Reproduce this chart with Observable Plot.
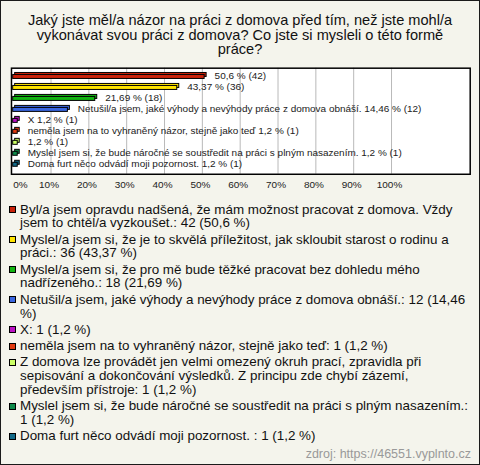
<!DOCTYPE html>
<html>
<head>
<meta charset="utf-8">
<script src="https://cdn.jsdelivr.net/npm/d3@7"></script>
<script src="https://cdn.jsdelivr.net/npm/@observablehq/plot@0.6"></script>
<style>
  html, body { margin: 0; padding: 0; background: #fff; }
  #page { position: relative; width: 478px; height: 463px; border: 1px solid #1a1a1a;
          background: #f4f4ec; font-family: "Liberation Sans", Arial, sans-serif; color: #111; overflow: hidden; }
  #title { position: absolute; left: 0; right: 0; top: 12px; margin: 0 auto; width: 440px;
           text-align: center; font-size: 14.6px; line-height: 14.7px; }
  #chart { position: absolute; left: -1px; top: 59px; }
  #legend { position: absolute; left: 8px; top: 201.5px; width: 462px; font-size: 13.4px; line-height: 13.8px; }
  .item { display: flex; align-items: flex-start; margin-bottom: 2.5px; }
  .sw { flex: none; width: 5px; height: 5px; border: 1px solid #000; margin-top: 3.4px; margin-right: 4px; }
  .txt { flex: 1; }
  #caption { position: absolute; right: 8px; top: 446px; font-size: 12.5px; color: #999; }
</style>
</head>
<body>
<div id="page">
  <div id="title">Jaký jste měl/a názor na práci z domova před tím, než jste mohl/a vykonávat svou práci z domova? Co jste si mysleli o této formě práce?</div>
  <div id="chart"></div>
  <div id="legend"></div>
  <div id="caption">zdroj: https://46551.vyplnto.cz</div>
</div>
<script>
const categories = [
  "Byl/a jsem opravdu nadšená, že mám možnost pracovat z domova. Vždy jsem to chtěl/a vyzkoušet.",
  "Myslel/a jsem si, že je to skvělá příležitost, jak skloubit starost o rodinu a práci.",
  "Myslel/a jsem si, že pro mě bude těžké pracovat bez dohledu mého nadřízeného.",
  "Netušil/a jsem, jaké výhody a nevýhody práce z domova obnáší.",
  "X",
  "neměla jsem na to vyhraněný názor, stejně jako teď",
  "Z domova lze provádět jen velmi omezený okruh prací, zpravidla při sepisování a dokončování výsledků. Z principu zde chybí zázemí, především přístroje",
  "Myslel jsem si, že bude náročné se soustředit na práci s plným nasazením.",
  "Doma furt něco odvádí moji pozornost. "
];
const counts = [42, 36, 18, 12, 1, 1, 1, 1, 1];
const percents = [50.6, 43.37, 21.69, 14.46, 1.2, 1.2, 1.2, 1.2, 1.2];
const showNameInBar = [false, false, false, true, true, true, false, true, true];
const colors = ["#c8220a", "#ffe400", "#11b411", "#3a66e0", "#bb11c4", "#e03a10", "#ccff66", "#0e8a4a", "#136a88"];
const xTicks = [0, 10, 20, 30, 40, 50, 60, 70, 80, 90, 100];

const fmt = v => String(v).replace(".", ",");
const data = categories.map((name, i) => ({
  name,
  count: counts[i],
  pct: percents[i],
  color: colors[i],
  label: (showNameInBar[i] ? name.trim() + " " : "") + fmt(percents[i]) + " % (" + counts[i] + ")"
}));

const font = '"Liberation Sans", Arial, sans-serif';
const chart = Plot.plot({
  width: 480,
  height: 140,
  marginTop: 7.7,
  marginBottom: 26,
  marginLeft: 11,
  marginRight: 9.3,
  style: { background: "transparent", fontFamily: font, color: "#222" },
  x: { domain: [-0.45, 120.8], axis: null, label: null },
  y: { domain: categories, padding: 0, axis: null },
  color: { type: "identity" },
  marks: [
    Plot.frame({ fill: "#fff", stroke: "none" }),
    Plot.ruleX(xTicks.filter(d => d > 0), { stroke: "#b9b9b9", strokeWidth: 1 }),
    Plot.barX(data, { x1: 0, x2: "pct", y: "name", fill: "color", stroke: "#000", strokeWidth: 1,
                      insetTop: 3.5, insetBottom: 3.5, dx: 2, dy: -2 }),
    Plot.barX(data, { x1: 0, x2: "pct", y: "name", fill: "color", stroke: "#000", strokeWidth: 1,
                      insetTop: 3.5, insetBottom: 3.5 }),
    Plot.text(data, { x: "pct", y: "name", text: "label", textAnchor: "start", dx: 10, dy: -1,
                      fontSize: 10, fill: "#222" }),
    Plot.frame({ stroke: "#000", strokeWidth: 1.5 }),
    Plot.axisX(xTicks.filter(d => d === 0), { tickSize: 0, tickPadding: 7, textAnchor: "start", fontSize: 10,
                      tickFormat: d => d + "%", fill: "#222", label: null }),
    Plot.axisX(xTicks.filter(d => d > 0), { tickSize: 0, tickPadding: 7, fontSize: 10,
                      tickFormat: d => d + "%", fill: "#222", dx: -2, label: null })
  ]
});
document.getElementById("chart").appendChild(chart);

const legend = document.getElementById("legend");
data.forEach(d => {
  const item = document.createElement("div");
  item.className = "item";
  const sw = document.createElement("div");
  sw.className = "sw";
  sw.style.background = d.color;
  const txt = document.createElement("div");
  txt.className = "txt";
  txt.textContent = d.name + ": " + d.count + " (" + fmt(d.pct) + " %)";
  item.appendChild(sw);
  item.appendChild(txt);
  legend.appendChild(item);
});
</script>
</body>
</html>
